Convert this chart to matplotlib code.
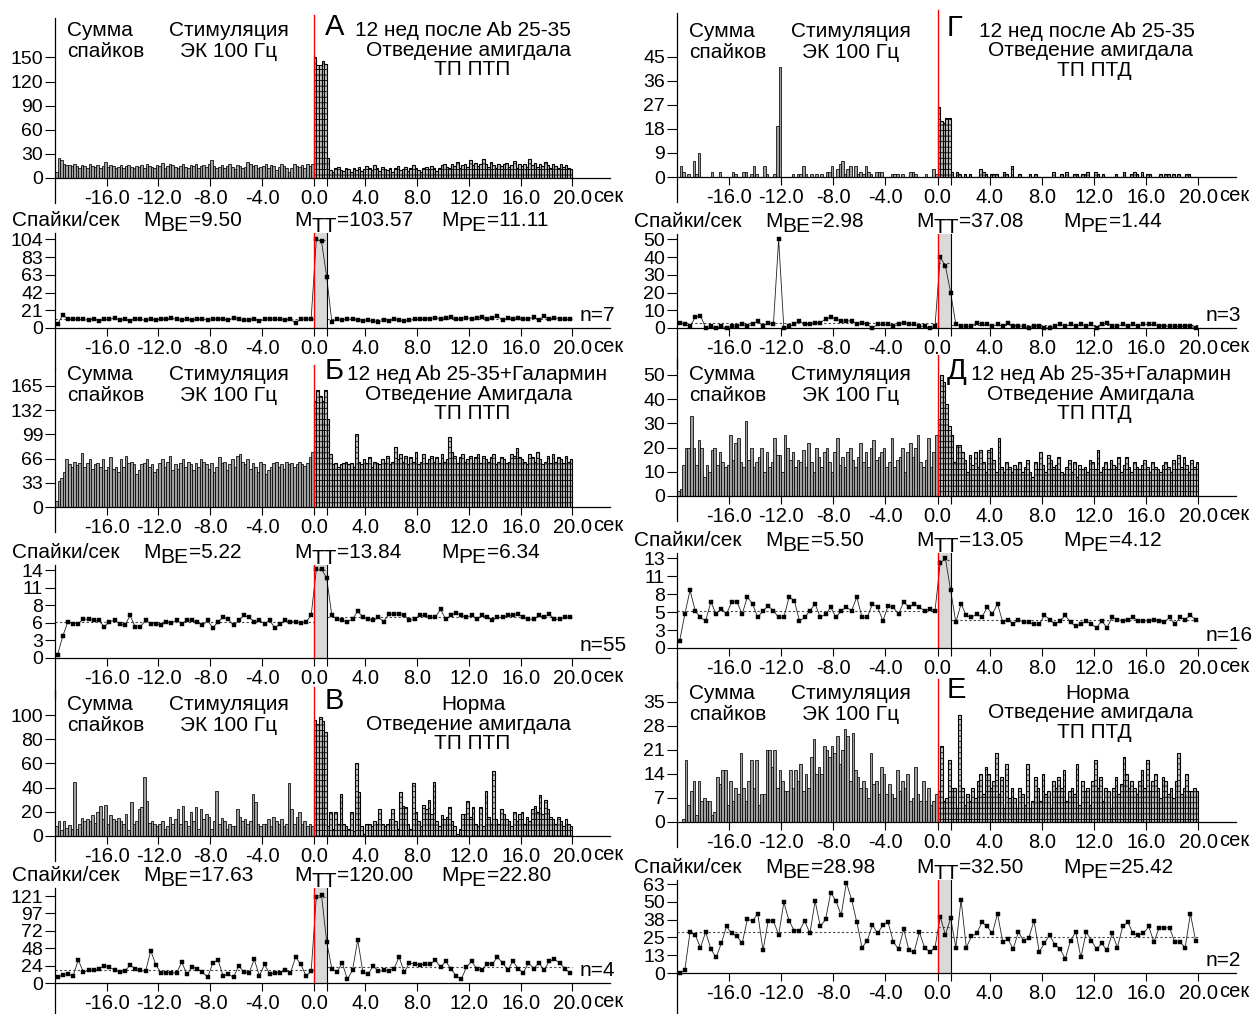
import numpy as np
import matplotlib
matplotlib.use("Agg")
import matplotlib.pyplot as plt
from matplotlib.lines import Line2D
from matplotlib.transforms import offset_copy

plt.rcParams['font.family'] = ['Liberation Sans', 'DejaVu Sans']
plt.rcParams['axes.unicode_minus'] = False
plt.rcParams['hatch.linewidth'] = 0.6

W, H = 1256, 1014
FS = 15        # header / annotation text
FS_X = 14.5    # x tick labels
FS_Y = 14      # y tick labels

# ---------------- data: histograms (0.2 s bins) ----------------
# pre = -20..0 s, stim = 0..1 s, post = 1..20 s
A_hist_pre = [8, 25, 22, 17, 16, 16, 15, 17, 15, 12, 16, 15, 13, 17, 15, 14, 16, 13, 15, 20,
              14, 16, 15, 12, 14, 16, 13, 15, 16, 14, 12, 15, 14, 16, 13, 17, 15, 14, 12, 16,
              15, 19, 13, 15, 17, 16, 14, 12, 15, 17, 14, 13, 16, 15, 18, 13, 15, 16, 14, 17,
              22, 15, 13, 14, 16, 12, 15, 18, 14, 11, 16, 15, 13, 14, 20, 17, 15, 16, 12, 14,
              15, 17, 13, 16, 15, 10, 14, 17, 15, 13, 8, 12, 18, 15, 14, 16, 12, 17, 15, 18]
A_hist_stim = [150, 140, 140, 145, 142]
A_hist_post = [25, 10, 8, 12, 14, 10, 9, 13, 11, 8, 12, 10, 14, 9, 11, 15, 13, 10, 16, 12,
               9, 14, 11, 10, 13, 8, 12, 15, 10, 11, 14, 9, 12, 16, 13, 10, 8, 12, 14, 11,
               15, 12, 9, 13, 16, 18, 14, 12, 17, 15, 20, 13, 16, 18, 14, 22, 16, 19, 15, 17,
               24, 18, 14, 20, 16, 13, 18, 15, 17, 19, 14, 16, 21, 13, 18, 15, 17, 14, 24, 16,
               19, 14, 17, 15, 20, 16, 13, 18, 15, 12, 17, 14, 16, 12, 11]

B_hist_pre = [8, 35, 40, 48, 65, 58, 55, 62, 57, 60, 73, 55, 60, 65, 52, 58, 60, 55, 65, 50,
              55, 68, 52, 55, 48, 65, 55, 70, 60, 62, 58, 45, 50, 58, 60, 65, 55, 58, 48, 52,
              60, 65, 55, 62, 70, 50, 58, 52, 60, 65, 55, 62, 58, 50, 60, 55, 65, 62, 58, 52,
              60, 48, 55, 68, 60, 62, 50, 58, 65, 55, 70, 72, 62, 58, 65, 52, 60, 55, 48, 62,
              58, 45, 50, 55, 60, 62, 55, 58, 52, 62, 58, 60, 55, 58, 62, 58, 56, 60, 68, 75]
B_hist_stim = [145, 160, 152, 145, 160]
B_hist_post = [120, 72, 58, 60, 55, 58, 60, 62, 58, 60, 55, 100,
               62, 58, 65, 60, 68, 55, 62, 60, 58, 65, 60, 70, 58, 62, 82,
               65, 72, 62, 70, 58, 68, 62, 75, 58, 62, 72, 60, 65, 70, 62, 68, 60, 72, 62, 65, 95,
               75, 70, 60, 68, 72, 62, 65, 70, 60, 68, 72, 60, 70, 65, 62, 68, 72, 58, 62, 68,
               65, 60, 62, 72, 70, 80, 68, 65, 62, 58, 72, 68, 62, 75, 65, 58, 62, 70, 60, 72,
               62, 68, 65, 60, 70, 62, 65]

V_hist_pre = [8, 12, 5, 12, 7, 9, 6, 45, 6, 10, 15, 12, 14, 12, 17, 11, 20, 25, 14, 26,
              10, 17, 14, 12, 15, 12, 10, 18, 5, 28, 10, 12, 22, 24, 49, 29, 11, 12, 10, 8,
              10, 12, 6, 8, 16, 10, 14, 22, 10, 25, 12, 8, 20, 12, 24, 6, 22, 14, 18, 16,
              6, 12, 37, 10, 15, 12, 6, 10, 8, 8, 22, 16, 12, 14, 10, 12, 35, 28, 10, 8,
              10, 10, 14, 8, 16, 12, 10, 14, 8, 10, 44, 22, 10, 16, 20, 10, 12, 8, 10, 8]
V_hist_stim = [96, 93, 98, 95, 86]
V_hist_post = [8, 20, 6, 20, 10, 35, 10, 8, 6, 20, 4, 60, 36,
               8, 2, 10, 10, 8, 12, 10, 22, 10, 8, 10, 14, 22, 12, 6, 36,
               25, 24, 10, 6, 44, 20, 12, 8, 26, 22, 30, 18, 45,
               12, 8, 17, 14, 16, 24, 12, 8, 2, 6, 18, 18, 29, 16, 24, 10, 8, 24, 8, 37,
               16, 10, 54, 14, 10, 22, 18, 14, 12, 8, 20, 12, 18, 20, 10, 16, 12, 22, 25,
               20, 34, 18, 30, 22, 16, 14, 10, 16, 12, 8, 14, 10, 8]

G_hist_pre = [0, 4, 2, 0, 1, 0, 6, 1, 9, 0,
              0, 0, 0, 2, 0, 0, 2, 0, 0, 0,
              0, 2, 1, 0, 0, 2, 2, 0, 1, 4,
              1, 0, 0, 4, 1, 0, 0, 1, 19, 41,
              0, 0, 0, 0, 1, 0, 1, 1, 4, 1,
              0, 1, 0, 1, 0, 1, 0, 2, 2, 4,
              0, 3, 5, 6, 1, 3, 4, 0, 4, 1,
              2, 1, 4, 2, 1, 0, 2, 2, 2, 0,
              0, 0, 1, 1, 1, 0, 1, 0, 0, 2,
              2, 1, 0, 0, 0, 1, 0, 0, 3, 1]
G_hist_stim = [26, 21, 20, 22, 22]
G_hist_post = [2, 0, 2, 1, 0, 1, 0, 1, 0, 0,
               0, 3, 2, 1, 0, 1, 1, 1, 0, 0,
               2, 1, 0, 4, 0, 0, 1, 0, 0, 0,
               1, 0, 1, 0, 0, 0, 0, 0, 0, 2,
               0, 0, 1, 0, 2, 0, 0, 1, 1, 0,
               1, 1, 2, 0, 0, 2, 1, 0, 1, 0,
               0, 0, 0, 1, 0, 0, 2, 0, 0, 1,
               2, 1, 0, 2, 0, 1, 1, 0, 0, 0,
               1, 0, 1, 1, 0, 1, 0, 1, 0, 0,
               1, 1, 0, 0, 0]

D_hist_pre = [2, 3, 13, 20, 20, 33, 20, 13, 23, 20, 8, 13, 10, 19, 20, 13, 18, 14, 12, 13,
              25, 15, 22, 24, 14, 12, 31, 15, 20, 12, 14, 16, 20, 10, 18, 12, 14, 24, 17, 17,
              10, 25, 20, 15, 18, 12, 15, 14, 19, 12, 22, 14, 10, 20, 16, 12, 18, 20, 14, 10,
              18, 24, 13, 16, 12, 18, 20, 15, 12, 16, 22, 14, 18, 12, 20, 23, 15, 16, 18, 20,
              12, 14, 24, 12, 15, 16, 20, 10, 18, 22, 16, 20, 25, 14, 12, 15, 24, 12, 18, 25]
D_hist_stim = [32, 50, 47, 38, 29]
D_hist_post = [25, 14, 21, 21, 18, 15, 10, 17, 13, 18, 12, 19, 14, 10, 19, 20, 15, 10, 24, 12,
               10, 14, 12, 10, 13, 11, 14, 10, 12, 15, 10, 8, 14, 11, 18, 13, 10, 17, 15, 12,
               13, 16, 10, 9, 12, 15, 10, 14, 8, 13, 11, 12, 10, 15, 14, 11, 19, 10, 12, 14,
               11, 15, 13, 12, 16, 10, 13, 16, 12, 10, 14, 12, 11, 13, 15, 12, 10, 14, 12, 11,
               10, 13, 14, 12, 10, 15, 11, 17, 12, 16, 13, 10, 15, 12, 14]

E_hist_pre = [0, 0, 1, 18, 5, 9, 12, 2, 12, 6, 7, 6, 6, 2, 3, 13,
              11, 15, 15, 5, 12, 6, 10, 8, 20, 10, 6, 12, 18, 10, 18, 5, 8, 8,
              21, 21, 16, 21, 10, 15, 12, 9, 9, 15, 10, 15, 12, 17, 9, 14,
              10, 19, 24, 14, 16, 14, 22, 21, 19, 22, 20, 25, 17, 21, 27,
              25, 12, 26, 15, 13, 10, 12, 10, 7, 20, 11, 12, 8, 16, 14,
              8, 11, 8, 7, 15, 9, 12, 10, 14, 6, 7, 16, 8, 6, 12, 6, 10, 5, 6, 8]
E_hist_stim = [9, 22, 6, 7, 18]
E_hist_post = [10, 10, 4, 31, 10, 5, 8, 6, 10, 7, 12, 14, 8, 16, 14, 10, 12, 20, 8, 13,
               4, 17, 7, 10, 7, 4, 10, 8, 5, 17, 4, 6, 13, 10, 6, 14, 8, 9, 4, 12,
               10, 13, 10, 15, 6, 9, 10, 8, 17, 5, 12, 9, 10, 5, 12, 18, 10, 13, 6, 10,
               9, 4, 10, 13, 8, 11, 19, 14, 10, 12, 10, 8, 12, 15, 10, 18, 9, 12, 14, 10,
               7, 13, 12, 8, 10, 7, 12, 20, 8, 10, 14, 9, 9, 10, 9]

# ---------------- data: spikes/sec (0.4 s bins) ----------------
A_line_pre = [5, 15, 11, 10, 10, 10, 9, 11, 8, 10, 10, 12, 9, 10, 8, 11, 10, 9, 10, 9,
              11, 10, 12, 10, 9, 10, 9, 10, 11, 9, 10, 11, 10, 9, 12, 10, 9, 9, 10, 8,
              10, 11, 10, 10, 9, 10, 6, 11, 10, 11]
A_line_stim = [104, 102]
A_line_post = [60, 7, 10, 9, 11, 10, 9, 8, 9, 8, 7, 9, 8, 10, 9, 8, 9, 10, 11, 11,
               11, 12, 11, 12, 13, 10, 11, 12, 11, 12, 13, 11, 12, 14, 9, 12, 11, 12, 11, 10,
               13, 9, 14, 10, 12, 11, 10, 10]

B_line_pre = [0.5, 3.5, 5.8, 5.5, 5.5, 6.2, 6.2, 6.0, 6.0, 5.0, 5.8, 6.0, 5.5, 5.2, 6.8, 5.0,
              5.0, 6.0, 5.5, 5.5, 5.2, 5.8, 5.6, 6.0, 5.5, 6.0, 6.0, 5.8, 5.2, 6.0, 4.8, 5.8,
              6.5, 6.2, 5.2, 6.0, 6.8, 6.5, 5.8, 6.0, 5.5, 6.0, 4.8, 5.5, 6.0, 5.8, 5.8, 5.6,
              5.8, 6.8]
B_line_stim = [14.2, 14.2]
B_line_post = [12.8, 6.8, 6.2, 6.0, 5.8, 6.2, 7.5, 6.5, 6.2, 6.0, 6.5, 5.8, 7.0, 7.0, 7.0, 6.8,
               6.0, 6.2, 6.8, 6.8, 6.5, 6.5, 7.8, 6.2, 6.8, 7.2, 6.8, 6.5, 6.8, 6.2, 6.8, 6.5,
               6.0, 6.5, 6.5, 6.8, 6.8, 7.0, 6.5, 6.2, 6.2, 6.8, 6.5, 7.0, 6.2, 6.2, 6.5, 6.5]

V_line_pre = [8, 11, 12, 10, 32, 15, 18, 18, 20, 24, 22, 18, 15, 16, 25, 20, 18, 16, 45, 25,
              14, 14, 14, 14, 29, 12, 22, 20, 15, 8, 28, 32, 10, 12, 8, 24, 15, 14, 33, 10,
              26, 12, 14, 14, 18, 14, 36, 26, 10, 16]
V_line_stim = [120, 122]
V_line_post = [57, 20, 15, 28, 5, 18, 60, 15, 12, 24, 16, 18, 17, 20, 36, 15, 28, 26, 25, 26,
               26, 32, 22, 30, 20, 10, 5, 22, 30, 20, 18, 27, 26, 36, 28, 18, 30, 20, 14, 28,
               20, 28, 18, 30, 33, 28, 20, 14]

G_line_pre = [3, 2, 1, 6, 7, 0, 1, 0, 1, 0, 1, 1, 2, 1, 2, 4, 1, 3, 2, 50,
              0, 1, 2, 4, 2, 2, 3, 3, 5, 6, 5, 4, 4, 4, 2, 3, 2, 0, 2, 2,
              2, 1, 2, 3, 2, 2, 1, 1, 0, 1]
G_line_stim = [40, 35]
G_line_post = [20, 2, 1, 1, 1, 3, 2, 2, 1, 2, 1, 3, 1, 1, 1, 0, 1, 1, 0, 0,
               1, 2, 1, 2, 1, 2, 1, 2, 0, 2, 3, 1, 1, 2, 1, 2, 1, 2, 2, 2,
               1, 1, 1, 1, 1, 1, 1, 0]

D_line_pre = [1, 5, 8.5, 5.5, 4.5, 4, 6.8, 5, 5.8, 5, 6.8, 6.8, 5, 7.5, 6.5, 4.5, 5.5, 6.2,
              5.5, 4.5, 4.5, 7.5, 7, 4, 4.5, 5.5, 6.5, 4.5, 5, 6, 4.5, 5.5, 6, 5.5, 7.5, 4.5,
              4.5, 6.5, 6, 4, 6.2, 6, 5, 6.8, 6, 6.5, 6, 5.5, 5.8, 5.5]
D_line_stim = [12.5, 13.2]
D_line_post = [8.5, 3.8, 6.5, 4.8, 4.5, 5, 4.5, 6, 5, 6.5, 3.8, 4.2, 3.5, 4.2, 3.8, 3.8,
               3.5, 3.5, 4.8, 4.2, 3.5, 4, 4.8, 3.8, 3.2, 3.5, 4, 3.5, 3, 4, 3, 4.5,
               4.2, 4, 4.2, 4.5, 4, 4, 4, 4.2, 4, 3.8, 4.5, 3.5, 4.5, 4.2, 4.8, 4.2]

E_line_pre = [0, 2, 29, 27, 18, 29, 17, 11, 21, 33, 28, 26, 21, 38, 37, 42, 16, 37, 37, 27,
              50, 37, 30, 30, 37, 28, 51, 33, 38, 57, 51, 41, 64, 52, 36, 18, 23, 34, 28, 34,
              36, 22, 17, 31, 16, 15, 29, 18, 15, 18]
E_line_stim = [40, 27]
E_line_post = [39, 18, 52, 18, 26, 28, 36, 33, 28, 42, 22, 24, 17, 29, 23, 25, 37, 15, 21, 27,
               20, 17, 10, 23, 29, 11, 29, 23, 17, 21, 16, 28, 18, 33, 36, 28, 27, 28, 33, 22,
               32, 32, 32, 22, 22, 18, 42, 23]

# mean values printed on the chart (before / during / after stimulation)
M_values = {'A': ('9.50', '103.57', '11.11'), 'B': ('5.22', '13.84', '6.34'),
            'V': ('17.63', '120.00', '22.80'), 'G': ('2.98', '37.08', '1.44'),
            'D': ('5.50', '13.05', '4.12'), 'E': ('28.98', '32.50', '25.42')}
# dashed mean levels as drawn
mean_levels = {'A': (10, 103, 11), 'B': (5.7, 14, 6.5), 'V': (17.6, 120, 22.8),
               'G': (3.0, 37, 1.5), 'D': (5.5, 13, 4.1), 'E': (29, 32.5, 25.5)}
n_labels = {'A': 'n=7', 'B': 'n=55', 'V': 'n=4', 'G': 'n=3', 'D': 'n=16', 'E': 'n=2'}
letters = {'A': 'А', 'B': 'Б', 'V': 'В', 'G': 'Г', 'D': 'Д', 'E': 'Е'}
titles = {'A': ('12 нед после Ab 25-35', 'Отведение амигдала', 'ТП ПТП'),
          'B': ('12 нед Ab 25-35+Галармин', 'Отведение Амигдала', 'ТП ПТП'),
          'V': ('Норма', 'Отведение амигдала', 'ТП ПТП'),
          'G': ('12 нед после Ab 25-35', 'Отведение амигдала', 'ТП ПТД'),
          'D': ('12 нед Ab 25-35+Галармин', 'Отведение Амигдала', 'ТП ПТД'),
          'E': ('Норма', 'Отведение амигдала', 'ТП ПТД')}
hist_ticks = {'A': 30, 'B': 33, 'V': 20, 'G': 9, 'D': 10, 'E': 7}
hist_ytop = {'A': 199, 'B': 189.5, 'V': 120.7, 'G': 61.3, 'D': 57.0, 'E': 40.7}
line_max = {'A': 104.2, 'B': 14, 'V': 120.8, 'G': 50, 'D': 13.2, 'E': 63}
line_ytop = {'A': 111.6, 'B': 14.87, 'V': 132.0, 'G': 53.1, 'D': 14.0, 'E': 65.9}
line_ticklabels = {'A': ['0', '21', '42', '63', '83', '104'],
                   'B': ['0', '3', '6', '8', '11', '14'],
                   'V': ['0', '24', '48', '72', '97', '121'],
                   'G': ['0', '10', '20', '30', '40', '50'],
                   'D': ['0', '3', '5', '8', '11', '13'],
                   'E': ['0', '13', '25', '38', '50', '63']}
xticks = [-16, -12, -8, -4, 0, 4, 8, 12, 16, 20]

data = {k: dict(hp=globals()[k + '_hist_pre'], hs=globals()[k + '_hist_stim'],
                hq=globals()[k + '_hist_post'], lp=globals()[k + '_line_pre'],
                ls=globals()[k + '_line_stim'], lq=globals()[k + '_line_post'])
        for k in 'ABVGDE'}

# ---------------- layout (pixels) ----------------
cols = {0: (55, 610), 1: (677, 1236)}
layout = {  # col, hist (top, bottom), line (top, bottom), text baseline, title1 x, ha
    'A': (0, (18, 178), (233, 328), 36, 300, 'left'),
    'B': (0, (368, 507), (565, 658), 380, 292, 'left'),
    'V': (0, (690, 836), (888, 983), 710, 418, 'center'),
    'G': (1, (13, 177), (234, 328), 37, 302, 'left'),
    'D': (1, (358, 496), (553, 648), 380, 294, 'left'),
    'E': (1, (682, 822), (880, 973), 699, 420, 'center'),
}

fig = plt.figure(figsize=(W / 100, H / 100), dpi=100)
renderer = fig.canvas.get_renderer()


def add_ax(l, t, r, b):
    return fig.add_axes([l / W, 1 - b / H, (r - l) / W, (b - t) / H])


def ftext(x, y, s, **kw):
    kw.setdefault('fontsize', FS)
    kw.setdefault('va', 'baseline')
    return fig.text(x / W, 1 - y / H, s, **kw)


def seq_text(x, y, parts):
    for s, dy in parts:
        t = ftext(x, y + dy, s)
        x += t.get_window_extent(renderer).width


def style_axis(ax, height_px, ext_px):
    ax.set_xlim(-20, 22.9)
    for s in ('top', 'right', 'left'):
        ax.spines[s].set_visible(False)
    ax.spines['bottom'].set_linewidth(0.9)
    ax.add_line(Line2D([0, 0], [-ext_px / height_px, 1], transform=ax.transAxes,
                       color='black', lw=0.9, clip_on=False))
    ax.set_xticks(xticks)
    ax.set_xticklabels(['%.1f' % v for v in xticks])
    ax.set_xticks([1.0], minor=True)
    ax.tick_params(axis='x', which='both', direction='out', length=6, width=0.8,
                   labelsize=FS_X, pad=2.2)
    ax.tick_params(axis='y', which='both', direction='out', length=7, width=0.8,
                   labelsize=FS_Y, pad=1.5)
    ax.patch.set_alpha(0)
    tr = offset_copy(ax.transData, fig=fig, x=21, y=-24, units='dots')
    ax.text(20, 0, 'сек', transform=tr, fontsize=FS_X, va='baseline', ha='left',
            clip_on=False)


for k in 'ABVGDE':
    col, (ht, hb), (lt, lb), base, t1x, t1ha = layout[k]
    l, r = cols[col]
    d = data[k]

    # ---- histogram ----
    ax = add_ax(l, ht, r, hb)
    w = 0.2
    pre = np.array(d['hp'], float)
    x_pre = -w * len(pre) + w * np.arange(len(pre))
    ax.bar(x_pre, pre, width=w, align='edge', facecolor='#a0a0a0',
           edgecolor='black', linewidth=0.55)
    post = np.concatenate([d['hs'], d['hq']]).astype(float)
    x_post = np.concatenate([w * np.arange(len(d['hs'])), 1.0 + w * np.arange(len(d['hq']))])
    ax.bar(x_post, post, width=w, align='edge', facecolor='#c4c4c4', hatch='---',
           edgecolor='black', linewidth=0.8)
    ax.axvline(0, ymin=0, ymax=1.02, color='red', lw=1.0, clip_on=False)
    ax.set_ylim(0, hist_ytop[k])
    step = hist_ticks[k]
    ax.set_yticks(np.arange(0, step * 5 + 1, step))
    style_axis(ax, hb - ht, 25)

    # ---- spikes/sec ----
    ax2 = add_ax(l, lt, r, lb)
    ax2.axvspan(0, 1, color='#d9d9d9', lw=0)
    be, tt, pe = mean_levels[k]
    ax2.plot([-20, 0], [be, be], ls=(0, (2, 2)), color='#444444', lw=0.8)
    ax2.plot([0, 1], [tt, tt], ls=(0, (2, 2)), color='#444444', lw=0.8)
    ax2.plot([1, 20], [pe, pe], ls=(0, (2, 2)), color='#444444', lw=0.8)
    lp, ls_, lq = d['lp'], d['ls'], d['lq']
    xs = np.concatenate([-0.2 - 0.4 * np.arange(len(lp))[::-1],
                         0.2 + 0.4 * np.arange(len(ls_)),
                         1.0 + 0.4 * np.arange(len(lq))])
    ys = np.concatenate([lp, ls_, lq]).astype(float)
    ax2.plot(xs, ys, color='#222222', lw=0.6, marker='s', ms=2.6, mfc='black',
             mec='black', mew=0.3, clip_on=False)
    ax2.axvline(0, color='red', lw=1.0)
    ax2.axvline(1, color='black', lw=0.8)
    ax2.set_ylim(0, line_ytop[k])
    ax2.set_yticks(np.array(line_max[k]) * np.arange(6) / 5)
    ax2.set_yticklabels(line_ticklabels[k])
    style_axis(ax2, lb - lt, 40)

    # ---- header texts ----
    ftext(l + 12, base, 'Сумма')
    ftext(l + 12, base + 21, 'спайков')
    ftext(l + 174, base, 'Стимуляция', ha='center')
    ftext(l + 174, base + 21, 'ЭК 100 Гц', ha='center')
    ftext(l + 270, base - 1, letters[k], fontsize=21)
    t1, t2, t3 = titles[k]
    ftext(l + t1x, base, t1, ha=t1ha)
    ftext(l + 414, base + 19.5, t2, ha='center')
    ftext(l + 417, base + 39, t3, ha='center')

    # ---- line-plot header ----
    yb = lt - 7
    mbe, mtt, mpe = M_values[k]
    ftext(l - 43, yb, 'Спайки/сек')
    seq_text(l + 88, yb, [('M', 0), ('BE', 5), ('=' + mbe, 0)])
    seq_text(l + 239, yb, [('M', 0), ('TT', 6), ('=' + mtt, 0)])
    seq_text(l + 386, yb, [('M', 0), ('PE', 5), ('=' + mpe, 0)])
    ftext(r - 30, lb - 7, n_labels[k])

fig.savefig('out.png', dpi=100)
